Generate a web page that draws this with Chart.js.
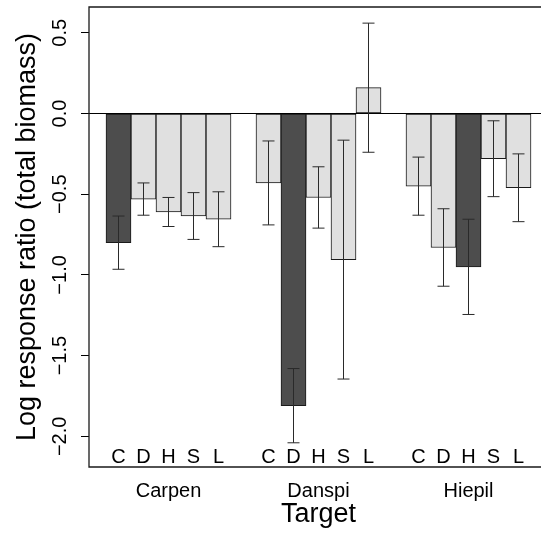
<!DOCTYPE html>
<html>
<head>
<meta charset="utf-8">
<script src="https://cdn.jsdelivr.net/npm/chart.js"></script>
<style>
   html, body { margin: 0; padding: 0; background: #fff; overflow: hidden; }
   canvas { display: block; }
</style>
</head>
<body>
<canvas id="lrrChart" width="600" height="537"></canvas>
<script>
   // target species, and the treatments applied around each of them
   var targets = ['Carpen', 'Danspi', 'Hiepil'];
   var treatments = ['C', 'D', 'H', 'S', 'L'];
   // treatment that is the target itself (drawn dark)
   var ownTreatment = ['C', 'D', 'H'];

   // log response ratio of total biomass, per target, in treatment order
   var lrrCarpen = [-0.80, -0.53, -0.61, -0.635, -0.655];
   var lrrDanspi = [-0.43, -1.81, -0.52, -0.905, 0.16];
   var lrrHiepil = [-0.45, -0.83, -0.95, -0.28, -0.46];

   // standard errors, same order
   var seCarpen = [0.165, 0.10, 0.09, 0.145, 0.17];
   var seDanspi = [0.26, 0.23, 0.19, 0.74, 0.40];
   var seHiepil = [0.18, 0.24, 0.295, 0.235, 0.21];

   var yTicks = [-2.0, -1.5, -1.0, -0.5, 0.0, 0.5];
   var yRange = [-2.19, 0.66];

   var FONT = '"Liberation Sans", Arial, Helvetica, sans-serif';
   var INK = '#000';

   var lrr = [lrrCarpen, lrrDanspi, lrrHiepil];
   var se = [seCarpen, seDanspi, seHiepil];
   var n = treatments.length;

   /* Bars sit side by side inside a group with one empty slot before
      each group, like barplot(beside = TRUE). Slot i covers [i, i + 1].
   */
   var points = [];
   var colors = [];
   var errors = [];
   var letters = [];
   for (var g = 0; g < targets.length; g++) {
      for (var t = 0; t < n; t++) {
         points.push({ x: g * (n + 1) + t + 1.5, y: lrr[g][t] });
         colors.push(treatments[t] === ownTreatment[g] ? '#4d4d4d' : '#e0e0e0');
         errors.push(se[g][t]);
         letters.push(treatments[t]);
      }
   }
   var xLo = 1;
   var xHi = targets.length * (n + 1);
   var xPad = 0.04 * (xHi - xLo);

   // whiskers for +/- one standard error, drawn over the bars
   var errorBars = {
      id: 'errorBars',
      afterDatasetsDraw: function(chart) {
         var ctx = chart.ctx;
         var yScale = chart.scales.y;
         var bars = chart.getDatasetMeta(0).data;
         ctx.save();
         ctx.strokeStyle = '#2a2a2a';
         ctx.lineWidth = 1;
         for (var i = 0; i < bars.length; i++) {
            var x = bars[i].x;
            var top = yScale.getPixelForValue(points[i].y + errors[i]);
            var bottom = yScale.getPixelForValue(points[i].y - errors[i]);
            ctx.beginPath();
            ctx.moveTo(x, top);
            ctx.lineTo(x, bottom);
            ctx.moveTo(x - 6, top);
            ctx.lineTo(x + 6, top);
            ctx.moveTo(x - 6, bottom);
            ctx.lineTo(x + 6, bottom);
            ctx.stroke();
         }
         ctx.restore();
      }
   };

   // treatment letters along the bottom of the panel, plus the frame
   var panelFrame = {
      id: 'panelFrame',
      afterDraw: function(chart) {
         var ctx = chart.ctx;
         var area = chart.chartArea;
         var bars = chart.getDatasetMeta(0).data;
         ctx.save();
         ctx.fillStyle = INK;
         ctx.font = '20px ' + FONT;
         ctx.textAlign = 'center';
         ctx.textBaseline = 'alphabetic';
         for (var i = 0; i < bars.length; i++) {
            ctx.fillText(letters[i], bars[i].x, area.bottom - 4.5);
         }
         // left, top and bottom sides; the right side lies past the page edge
         ctx.strokeStyle = '#1a1a1a';
         ctx.lineWidth = 1.3;
         ctx.beginPath();
         ctx.moveTo(area.right, area.top);
         ctx.lineTo(area.left, area.top);
         ctx.lineTo(area.left, area.bottom);
         ctx.lineTo(area.right, area.bottom);
         ctx.stroke();
         ctx.restore();
      }
   };

   var ctx = document.getElementById('lrrChart').getContext('2d');

   new Chart(ctx, {
      type: 'bar',
      data: {
         datasets: [{
            data: points,
            backgroundColor: colors,
            borderColor: '#1a1a1a',
            borderWidth: 1,
            borderSkipped: false,
            categoryPercentage: 1,
            barPercentage: 1
         }]
      },
      options: {
         responsive: false,
         animation: false,
         devicePixelRatio: 1,
         layout: { padding: { left: 0, top: 7, right: 52, bottom: 0 } },
         plugins: {
            legend: { display: false },
            tooltip: { enabled: false }
         },
         scales: {
            x: {
               type: 'linear',
               offset: false,
               min: xLo - xPad,
               max: xHi + xPad,
               afterBuildTicks: function(scale) {
                  scale.ticks = targets.map(function(name, i) {
                     return { value: i * (n + 1) + 1 + n / 2 };
                  });
               },
               afterFit: function(scale) { scale.height = 70; },
               grid: { display: false },
               border: { display: false },
               ticks: {
                  autoSkip: false,
                  maxRotation: 0,
                  padding: 4,
                  color: INK,
                  font: { family: FONT, size: 20 },
                  callback: function(value, index) { return targets[index]; }
               },
               title: {
                  display: true,
                  text: 'Target',
                  color: INK,
                  font: { family: FONT, size: 27 },
                  padding: { top: 0, bottom: 6 }
               }
            },
            y: {
               min: yRange[0],
               max: yRange[1],
               afterBuildTicks: function(scale) {
                  scale.ticks = yTicks.map(function(v) { return { value: v }; });
               },
               afterFit: function(scale) { scale.width = 89; },
               grid: {
                  drawOnChartArea: true,
                  color: function(c) {
                     return c.tick && c.tick.value === 0 ? INK : 'rgba(0,0,0,0)';
                  },
                  tickColor: INK,
                  tickLength: 8,
                  lineWidth: 1
               },
               border: { display: false },
               ticks: {
                  minRotation: 90,
                  maxRotation: 90,
                  crossAlign: 'center',
                  padding: 1,
                  color: INK,
                  font: { family: FONT, size: 20, lineHeight: 0.6 },
                  callback: function(value) {
                     return value.toFixed(1).replace('-', '\u2212');
                  }
               },
               title: {
                  display: true,
                  text: 'Log response ratio (total biomass)',
                  color: INK,
                  font: { family: FONT, size: 27 },
                  padding: { top: 11, bottom: 0 }
               }
            }
         }
      },
      plugins: [errorBars, panelFrame]
   });
</script>
</body>
</html>
